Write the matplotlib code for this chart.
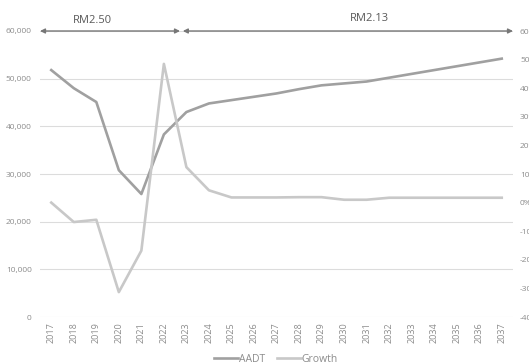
import matplotlib
matplotlib.use('Agg')
import matplotlib.pyplot as plt

# Data
years = [str(y) for y in range(2017, 2038)]
aadt = [51800, 48000, 45100, 30800, 25800, 38300, 43000, 44800, 45500, 46200,
        46900, 47800, 48600, 49000, 49400, 50200, 51000, 51800, 52600, 53400, 54200]
growth = [0.0, -6.8, -6.0, -31.3, -16.8, 48.5, 12.4, 4.3, 1.8, 1.8,
          1.8, 1.9, 1.9, 1.0, 1.0, 1.7, 1.7, 1.7, 1.7, 1.7, 1.7]
left_ticks = [0, 10000, 20000, 30000, 40000, 50000, 60000]
right_ticks = [-40, -30, -20, -10, 0, 10, 20, 30, 40, 50, 60]
rate_labels = ['RM2.50', 'RM2.13']

plt.rcParams['font.family'] = ['Open Sans', 'DejaVu Sans']

fig = plt.figure(figsize=(5.29, 3.62), dpi=100)
ax = fig.add_axes([40/529, 1-317/362, 473/529, 286/362])
ax2 = ax.twinx()

x = list(range(len(years)))
l1, = ax.plot(x, aadt, color='#a0a0a0', lw=1.9, label='AADT', zorder=3)
l2, = ax2.plot(x, growth, color='#c8c8c8', lw=1.9, label='Growth', zorder=2)

ax.set_xlim(-0.5, len(years) - 0.5)
ax.set_ylim(0, 60000)
ax2.set_ylim(-40, 60)
ax.set_yticks(left_ticks)
ax.set_yticklabels(['{:,}'.format(v) for v in left_ticks])
ax2.set_yticks(right_ticks)
ax2.set_yticklabels(['{}%'.format(v) for v in right_ticks])
ax.set_xticks(x)
ax.set_xticklabels(years, rotation=90)

for a in (ax, ax2):
    for s in a.spines.values():
        s.set_visible(False)
    a.tick_params(length=0, labelsize=6, labelcolor='#8c8c8c')
ax.tick_params(axis='y', pad=6)
ax2.tick_params(axis='y', pad=5)
ax.tick_params(axis='x', pad=4, labelsize=6.5)
ax.grid(axis='y', color='#dcdcdc', lw=0.8)
ax.set_axisbelow(True)

# fare period arrows along the top
arrow = dict(arrowstyle='<|-|>', color='#777777', lw=1.0, mutation_scale=7,
             shrinkA=0, shrinkB=0)
ax.annotate('', xy=(0.0, 1.0), xytext=(0.296, 1.0), xycoords='axes fraction',
            arrowprops=arrow)
ax.annotate('', xy=(0.302, 1.0), xytext=(1.0, 1.0), xycoords='axes fraction',
            arrowprops=arrow)
ax.text(0.111, 1.038, rate_labels[0], transform=ax.transAxes, ha='center',
        va='center', fontsize=8, color='#595959')
ax.text(0.696, 1.044, rate_labels[1], transform=ax.transAxes, ha='center',
        va='center', fontsize=8, color='#595959')

fig.legend(handles=[l1, l2], loc='center', bbox_to_anchor=(0.522, 1-359/362),
           ncol=2, frameon=False, fontsize=7.5, labelcolor='#8c8c8c',
           handlelength=2.3, handletextpad=0.05, columnspacing=1.2)

fig.savefig('out.png', dpi=100)
